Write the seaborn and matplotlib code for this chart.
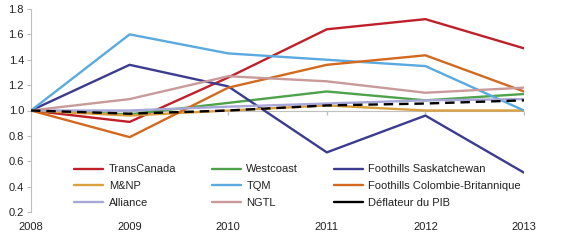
import matplotlib
matplotlib.use("Agg")
import matplotlib.pyplot as plt
import seaborn as sns
import pandas as pd

years = [2008, 2009, 2010, 2011, 2012, 2013]
series_names = ["TransCanada", "Westcoast", "Foothills Saskatchewan",
                "M&NP", "TQM", "Foothills Colombie-Britannique",
                "Alliance", "NGTL", "Déflateur du PIB"]
transcanada = [1.0, 0.91, 1.26, 1.64, 1.72, 1.49]
westcoast = [1.0, 0.97, 1.06, 1.15, 1.08, 1.13]
foothills_sask = [1.0, 1.36, 1.19, 0.67, 0.96, 0.51]
mnp = [1.0, 0.96, 1.0, 1.04, 1.0, 1.0]
tqm = [1.0, 1.60, 1.45, 1.40, 1.35, 1.0]
foothills_bc = [1.0, 0.79, 1.18, 1.36, 1.435, 1.15]
alliance = [1.0, 1.0, 1.03, 1.055, 1.08, 1.09]
ngtl = [1.0, 1.09, 1.27, 1.23, 1.14, 1.18]
deflator = [1.0, 0.975, 1.0, 1.04, 1.055, 1.08]
values = [transcanada, westcoast, foothills_sask, mnp, tqm, foothills_bc,
          alliance, ngtl, deflator]
yticks = [0.2, 0.4, 0.6, 0.8, 1.0, 1.2, 1.4, 1.6, 1.8]

colors = ["#C0202A", "#4EA24A", "#3B3B8F", "#D9A040", "#5AAAE0", "#D2691E",
          "#A8A8D8", "#C89A9A", "#000000"]

rows = []
for name, vals in zip(series_names, values):
    for yr, v in zip(years, vals):
        rows.append({"year": yr, "value": v, "series": name})
df = pd.DataFrame(rows)

sns.set_style("white")
plt.rcParams['font.family'] = ['Liberation Sans', 'DejaVu Sans']

fig = plt.figure(figsize=(5.8, 2.41), dpi=100)
ax = fig.add_axes([31/580, (241-212)/241, (524-31)/580, (212-9)/241])

palette = dict(zip(series_names, colors))
dashes = {n: "" for n in series_names}
dashes["Déflateur du PIB"] = (4, 2.5)

# baseline axis at 1.0 (Excel style)
ax.axhline(1.0, color="#BFBFBF", lw=0.8, zorder=1)
ax.plot(years, [1.0] * len(years), linestyle="none", marker=3,
        markersize=3, color="#BFBFBF", zorder=1)

sns.lineplot(data=df, x="year", y="value", hue="series", style="series",
             hue_order=series_names, style_order=series_names,
             palette=palette, dashes=dashes, linewidth=1.7, ax=ax,
             legend=True, zorder=3)

ax.set_xlim(2008, 2013)
ax.set_ylim(0.2, 1.8)
ax.set_yticks(yticks)
ax.set_yticklabels([f"{t:.1f}" for t in yticks])
ax.set_xticks(years)
ax.set_xticklabels([str(y) for y in years])
ax.set_xlabel("")
ax.set_ylabel("")
for s in ["top", "right", "bottom"]:
    ax.spines[s].set_visible(False)
ax.spines["left"].set_color("#BFBFBF")
ax.spines["left"].set_linewidth(0.8)
ax.tick_params(axis="y", length=3, color="#BFBFBF", labelsize=8,
               labelcolor="#222222", pad=2, left=True)
ax.tick_params(axis="x", length=0, labelsize=8, labelcolor="#222222", pad=7)

handles, labels = ax.get_legend_handles_labels()
hmap = dict(zip(labels, handles))
order = [series_names[i] for i in [0, 3, 6, 1, 4, 7, 2, 5, 8]]
leg = ax.legend([hmap[n] for n in order], order, ncol=3, frameon=False,
                loc="upper left", bbox_to_anchor=(70/580, 1 - 160/241),
                bbox_transform=fig.transFigure, fontsize=8,
                handlelength=2.6, handletextpad=0.5, columnspacing=3.2,
                labelspacing=0.62, borderaxespad=0)
for t in leg.get_texts():
    t.set_color("#222222")
for line in leg.get_lines():
    line.set_linestyle("-")

fig.savefig("out.png", dpi=100)
